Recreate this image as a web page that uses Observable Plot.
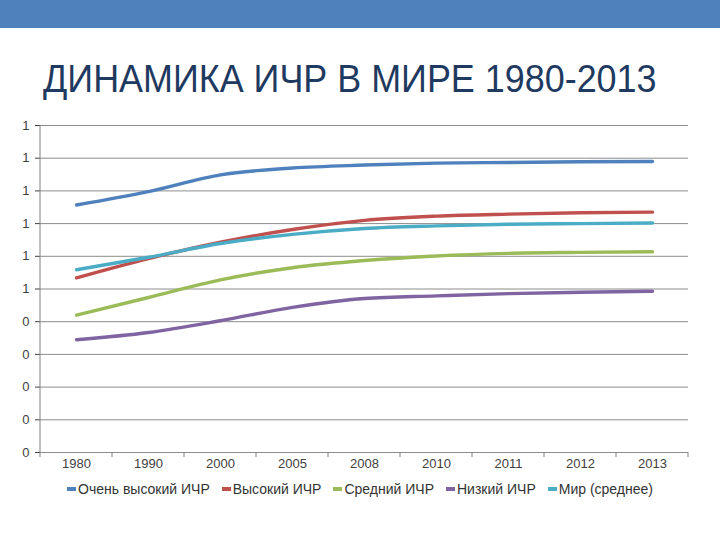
<!DOCTYPE html>
<html><head><meta charset="utf-8">
<script src="https://cdn.jsdelivr.net/npm/d3@7"></script>
<script src="https://cdn.jsdelivr.net/npm/@observablehq/plot@0.6"></script>
<style>
body{margin:0;background:#fff;font-family:"Liberation Sans",Arial,sans-serif;width:720px;height:540px;position:relative;overflow:hidden;}
#band{position:absolute;left:0;top:0;width:720px;height:28px;background:#4f81bd;}
#title{position:absolute;left:43px;top:58px;font-size:38px;color:#1f3a60;font-family:"Liberation Sans",sans-serif;white-space:nowrap;transform:scaleX(0.945);transform-origin:0 0;}
#chart{position:absolute;left:0;top:110px;}
#legend{position:absolute;left:0;top:481px;width:720px;display:flex;justify-content:center;gap:12px;font-size:14px;color:#333;}
#legend span.sw{display:inline-block;width:9px;height:4px;margin-right:2px;vertical-align:middle;position:relative;top:-1px;}
</style>
</head><body>
<div id="band"></div>
<div id="title">ДИНАМИКА ИЧР В МИРЕ 1980-2013</div>
<div id="chart"></div>
<div id="legend"></div>
<script>
const years = ["1980","1990","2000","2005","2008","2010","2011","2012","2013"];
const seriesNames = ["Очень высокий ИЧР","Высокий ИЧР","Средний ИЧР","Низкий ИЧР","Мир (среднее)"];
const seriesColors = ["#4f81bd","#c0504d","#9bbb59","#8064a2","#4bacc6"];
const veryHigh = [0.757,0.798,0.849,0.870,0.879,0.885,0.887,0.889,0.890];
const high     = [0.534,0.593,0.643,0.682,0.710,0.723,0.729,0.733,0.735];
const medium   = [0.420,0.474,0.528,0.565,0.587,0.601,0.609,0.612,0.614];
const low      = [0.345,0.367,0.403,0.444,0.471,0.479,0.486,0.490,0.493];
const world    = [0.559,0.597,0.639,0.667,0.685,0.693,0.698,0.700,0.702];
const yTicks = [0,0.1,0.2,0.3,0.4,0.5,0.6,0.7,0.8,0.9,1.0];

const allSeries = [veryHigh, high, medium, low, world];
const rows = [];
allSeries.forEach((vals, s) => vals.forEach((v, i) => rows.push({year: years[i], value: v, series: seriesNames[s]})));

function boundaryTicks(index, scales, values, dims) {
  const x = scales.x, y = scales.y;
  const step = (x(years[years.length-1]) - x(years[0])) / (years.length - 1);
  const y0 = y(0);
  const g = d3.create("svg:g").attr("stroke", "#808080").attr("stroke-width", 1);
  const xs = years.map(d => x(d) - step/2).concat([x(years[years.length-1]) + step/2]);
  xs.forEach(px => g.append("line").attr("x1", px).attr("x2", px).attr("y1", y0).attr("y2", y0 + 5));
  g.append("line").attr("x1", xs[0]).attr("x2", xs[0]).attr("y1", y(1)).attr("y2", y0);
  return g.node();
}

const chart = Plot.plot({
  width: 720,
  height: 370,
  marginLeft: 40,
  marginRight: 32,
  marginTop: 15,
  marginBottom: 28,
  style: {fontFamily: "'Liberation Sans', Arial, sans-serif", fontSize: "13px", color: "#404040", background: "transparent"},
  x: {type: "point", domain: years, padding: 0.5, align: 0.5, label: null, tickSize: 0, tickPadding: 6},
  y: {domain: [0, 1], ticks: yTicks, tickFormat: d => String(Math.round(d)), label: null, tickSize: 5, tickPadding: 6},
  color: {domain: seriesNames, range: seriesColors},
  marks: [
    Plot.ruleY(yTicks, {stroke: "#8c8c8c", strokeWidth: 1}),
    boundaryTicks,
    Plot.line(rows, {x: "year", y: "value", z: "series", stroke: "series", strokeWidth: 3.4, curve: "monotone-x"})
  ]
});
document.getElementById("chart").appendChild(chart);

const legend = document.getElementById("legend");
seriesNames.forEach((n, i) => {
  const item = document.createElement("div");
  item.innerHTML = `<span class="sw" style="background:${seriesColors[i]}"></span>${n}`;
  legend.appendChild(item);
});
</script>
</body></html>
